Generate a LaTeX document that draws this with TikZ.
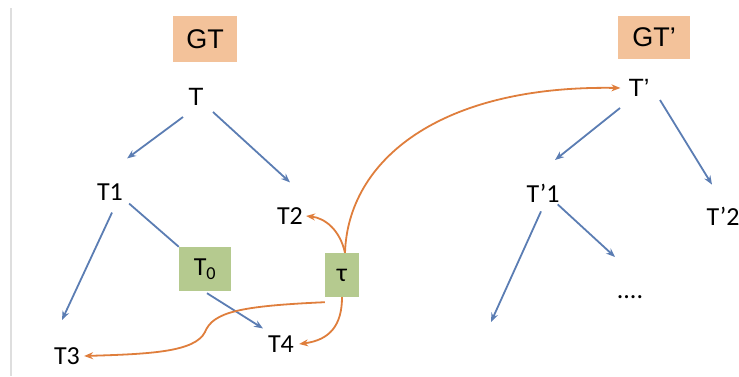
\documentclass[tikz,border=0pt]{standalone}
\usepackage{fontspec}
\setmainfont{Carlito}
\newfontfamily\helv{Liberation Sans}
\usepackage{tikz}
\usetikzlibrary{arrows.meta}

\definecolor{treeblue}{HTML}{5B7DB3}
\definecolor{mapred}{HTML}{DF7E3C}
\definecolor{peach}{HTML}{F3C29A}
\definecolor{sage}{HTML}{B5CA8F}

\begin{document}
\begin{tikzpicture}[x=1pt,y=-1pt,
    lbl/.style={inner sep=0pt,font=\fontsize{26}{30}\selectfont},
    root/.style={inner sep=0pt,font=\helv\fontsize{25}{28}\selectfont},
    tag/.style={fill=peach,inner sep=0pt,minimum width=64pt,minimum height=46pt,font=\helv\fontsize{27}{30}\selectfont},
    sub/.style={fill=sage,inner sep=0pt,minimum height=44pt,font=\fontsize{26}{30}\selectfont},
    edge/.style={treeblue,line width=1.8pt,-{Stealth[length=9pt,width=7pt]}},
    map/.style={mapred,line width=1.8pt,-{Stealth[length=9pt,width=7pt]}}]
  \useasboundingbox (0,0) rectangle (739,376);
  \draw[black!13,line width=2pt] (11,8) -- (11,376);

  % left tree
  \node[tag] (gt) at (205,39) {GT};
  \node[root] (t) at (196,97) {T};
  \node[lbl] (t1) at (110,192) {T1};
  \node[lbl] (t2) at (290,216) {T2};
  \node[lbl] (t3) at (67,356) {T3};
  \node[lbl] (t4) at (281,344) {T4};
  \node[sub,minimum width=52pt] (t0) at (205,269) {T\textsubscript{0}};
  \node[sub,minimum width=34pt] (tau) at (342,275) {τ};

  \draw[edge] (t) ++(-13,20) -- ([xshift=4pt,yshift=25pt]t1.north east);
  \draw[edge] (t) ++(17,15) -- ([yshift=25pt]t2.north);
  \draw[edge] ([xshift=2pt,yshift=-12pt]t1.south) -- (62,320) coordinate (t3top);
  \draw[treeblue,line width=1.8pt] ([xshift=6pt,yshift=-3pt]t1.south east) -- (t0.north west);
  \draw[edge] ([xshift=2pt,yshift=-2pt]t0.south) -- ([xshift=-18pt,yshift=7pt]t4.north);

  % right tree
  \node[tag,minimum width=72pt,minimum height=43pt] (gtp) at (654,37) {GT’};
  \node[root] (tp) at (639,88) {T’};
  \node[lbl] (tp1) at (543,193) {T’1};
  \node[lbl] (tp2) at (723,216) {T’2};
  \node[lbl] (dots) at (630,297) {....};

  \draw[edge] (tp) ++(-19,20) -- (555,160);
  \draw[edge] (tp) ++(21,12) -- ([xshift=-11pt,yshift=22pt]tp2.north);
  \draw[edge] ([xshift=-2pt,yshift=-9pt]tp1.south) -- (491,322) coordinate (leaf);
  \draw[edge] ([xshift=-2pt,yshift=-2pt]tp1.south east) -- (615,257) coordinate (more);

  % tau arrows
  \draw[map] ([xshift=3pt]tau.north) .. controls (340,230) and (325,218) .. ([xshift=3pt]t2.east);
  \draw[map] ([xshift=3pt]tau.north) .. controls (348,160) and (440,85) .. ([xshift=-8pt]tp.west);
  \draw[map] (tau.south) .. controls (342,325) and (330,340) .. ([xshift=5pt]t4.east);
  \draw[map] ([yshift=-5pt]tau.south west) .. controls (240,306) and (213,312) .. (205,332)
     .. controls (195,352) and (150,354) .. ([xshift=4pt]t3.east);
\end{tikzpicture}
\end{document}
